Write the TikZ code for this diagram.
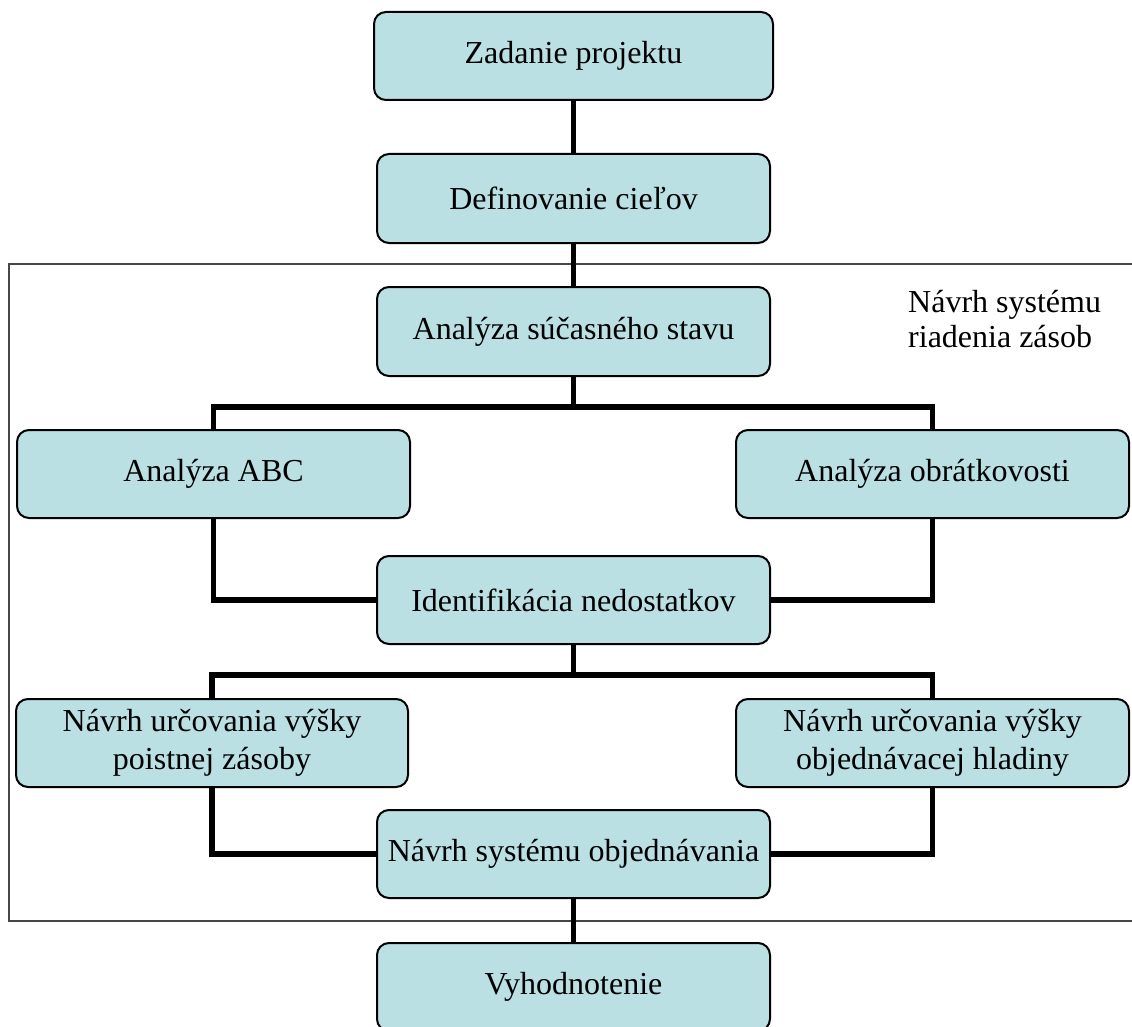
\documentclass[tikz,border=0pt]{standalone}
\usepackage{fontspec}
\setmainfont{Liberation Serif}
\definecolor{boxfill}{RGB}{186,224,228}
\definecolor{framegray}{RGB}{70,70,70}
\begin{document}
\begin{tikzpicture}[x=1pt,y=-1pt,
  box/.style={draw=black, line width=2pt, fill=boxfill, rounded corners=12pt,
    minimum width=393pt, minimum height=88pt, inner sep=0pt, align=center,
    font=\fontsize{32}{38}\selectfont},
  conn/.style={draw=black, line width=5.5pt},
  frame/.style={draw=framegray, line width=1.6pt},
  lbl/.style={font=\fontsize{32}{35}\selectfont, align=left, inner sep=0pt}]
\useasboundingbox (0,0) rectangle (1132,1027);
\clip (0,0) rectangle (1132,1027);
% outer frame
\draw[frame] (1140,264) -- (9,264) -- (9,921) -- (1140,921);
% nodes
\node[box, minimum width=399pt] (zad) at (573.5,56) {Zadanie projektu};
\node[box, minimum height=89pt] (def) at (573.5,198.5) {Definovanie cieľov};
\node[box, minimum height=89pt] (ana) at (573.5,331.5) {Analýza súčasného stavu};
\node[box] (abc) at (213.5,474) {Analýza ABC};
\node[box] (obr) at (932.5,474) {Analýza obrátkovosti};
\node[box] (ide) at (573.5,600) {Identifikácia nedostatkov};
\node[box, minimum width=392pt] (poi) at (212,743) {Návrh určovania výšky\\poistnej zásoby};
\node[box] (obj) at (932.5,743) {Návrh určovania výšky\\objednávacej hladiny};
\node[box] (sys) at (573.5,854) {Návrh systému objednávania};
\node[box] (vyh) at (573.5,987) {Vyhodnotenie};
\node[lbl, anchor=base west] (title) at (908,347) {Návrh systému\\riadenia zásob};
% branch points
\coordinate (b1) at (573.5,407);
\coordinate (b2) at (573.5,675);
% connectors
\draw[conn] (zad.south) -- (def.north);
\draw[conn] (def.south) -- (ana.north);
\draw[conn] (ana.south) -- (b1);
\draw[conn] (abc.north) |- (b1) -| (obr.north);
\draw[conn] (abc.south) |- (ide.west);
\draw[conn] (obr.south) |- (ide.east);
\draw[conn] (ide.south) -- (b2);
\draw[conn] (poi.north) |- (b2) -| (obj.north);
\draw[conn] (poi.south) |- (sys.west);
\draw[conn] (obj.south) |- (sys.east);
\draw[conn] (sys.south) -- (vyh.north);
\end{tikzpicture}
\end{document}
